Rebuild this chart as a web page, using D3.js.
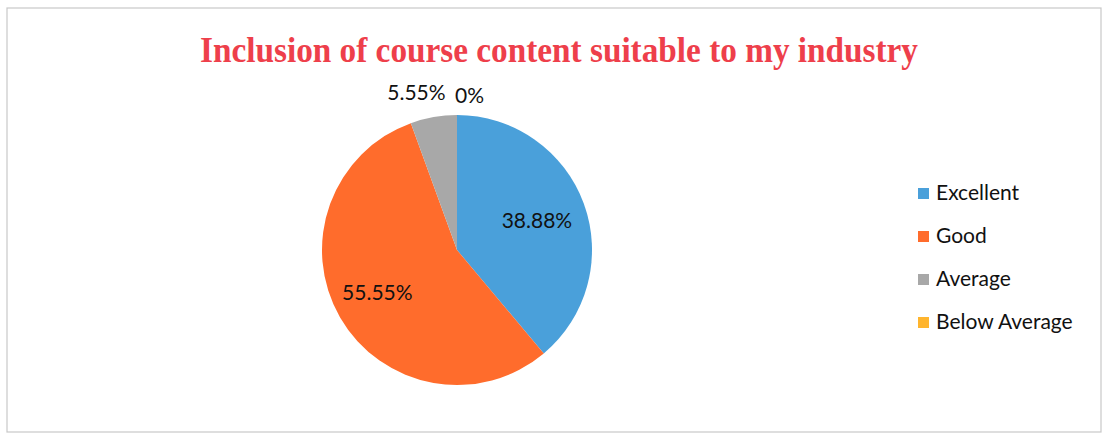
<!DOCTYPE html>
<html>
<head>
<meta charset="utf-8">
<style>
  body { margin: 0; background: #fff; }
  svg { display: block; }
</style>
</head>
<body>
<script src="https://cdnjs.cloudflare.com/ajax/libs/d3/7.8.5/d3.min.js"></script>
<script>
var categories = ["Excellent", "Good", "Average", "Below Average"];
var values = [38.88, 55.55, 5.55, 0];
var labels = ["38.88%", "55.55%", "5.55%", "0%"];
var colors = ["#4aa0da", "#ff6c2c", "#a8a8a8", "#ffb52e"];

var width = 1109, height = 437;
var cx = 457, cy = 250, radius = 135;

var svg = d3.select("body").append("svg")
    .attr("width", width)
    .attr("height", height);

// chart frame
svg.append("rect")
    .attr("x", 7).attr("y", 8)
    .attr("width", 1094).attr("height", 424)
    .attr("fill", "#fff")
    .attr("stroke", "#c8c8c8")
    .attr("stroke-width", 1.2);

svg.append("text")
    .attr("x", 559).attr("y", 62)
    .attr("text-anchor", "middle")
    .attr("font-family", "Liberation Serif, Times New Roman, serif")
    .attr("font-weight", "bold")
    .attr("font-size", 36)
    .attr("textLength", 718)
    .attr("lengthAdjust", "spacingAndGlyphs")
    .attr("fill", "#ee3f4b")
    .text("Inclusion of course content suitable to my industry");

var pie = d3.pie().sort(null).value(function (d) { return d; });
var arcs = pie(values);
var arc = d3.arc().innerRadius(0).outerRadius(radius);
var labelArc = d3.arc().innerRadius(radius * 0.63).outerRadius(radius * 0.63);

var g = svg.append("g").attr("transform", "translate(" + cx + "," + cy + ")");

g.selectAll("path")
    .data(arcs)
    .enter()
    .append("path")
    .attr("d", arc)
    .attr("fill", function (d, i) { return colors[i]; });

// labels: inside for big slices, above the pie for the small ones
g.selectAll("text.lbl")
    .data(arcs)
    .enter()
    .append("text")
    .attr("class", "lbl")
    .attr("font-family", "Lato, Carlito, Calibri, sans-serif")
    .attr("font-size", 21)
    .attr("fill", "#111")
    .attr("dy", "0.35em")
    .each(function (d, i) {
        var t = d3.select(this);
        var share = (d.endAngle - d.startAngle) / (2 * Math.PI);
        if (share > 0.1) {
            var c = labelArc.centroid(d);
            t.attr("x", c[0] - (c[0] < 0 ? 6 : 0)).attr("y", c[1]).attr("text-anchor", "middle");
        } else {
            var mid = (d.startAngle + d.endAngle) / 2;
            var px = Math.sin(mid) * radius;
            if (mid > Math.PI && mid < 2 * Math.PI - 0.001) {
                t.attr("x", px + 12).attr("text-anchor", "end").attr("y", -radius - 22);
            } else {
                t.attr("x", -2).attr("text-anchor", "start").attr("y", -radius - 19);
            }
        }
    })
    .text(function (d, i) { return labels[i]; });

// legend
var legend = svg.append("g").attr("transform", "translate(918,193)");
var row = legend.selectAll("g")
    .data(categories)
    .enter()
    .append("g")
    .attr("transform", function (d, i) { return "translate(0," + (i * 43) + ")"; });

row.append("rect")
    .attr("x", 0).attr("y", -5)
    .attr("width", 11).attr("height", 11)
    .attr("fill", function (d, i) { return colors[i]; });

row.append("text")
    .attr("x", 18).attr("y", 0)
    .attr("dy", "0.35em")
    .attr("font-family", "Lato, Carlito, Calibri, sans-serif")
    .attr("font-size", 21)
    .attr("fill", "#111")
    .text(function (d) { return d; });
</script>
</body>
</html>
